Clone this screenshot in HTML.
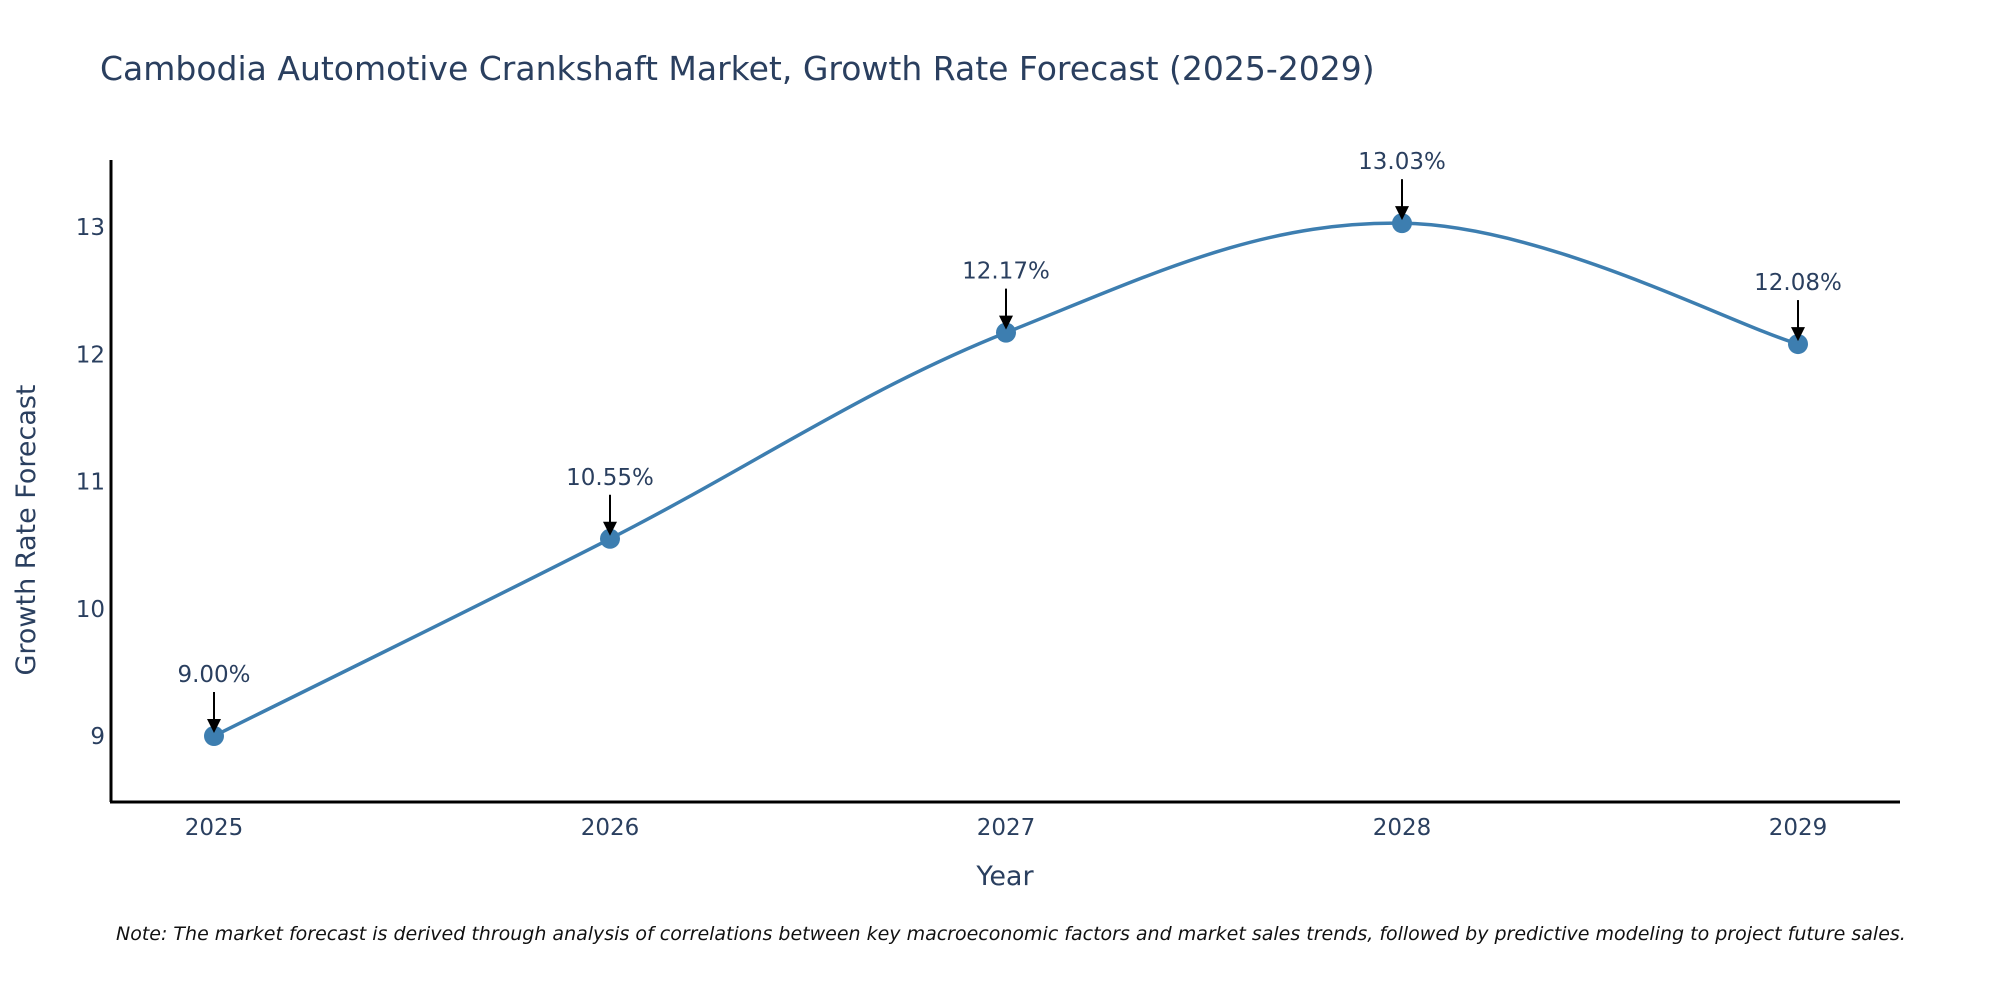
<!DOCTYPE html>
<html><head><meta charset="utf-8"><style>
body{margin:0;background:#fff;}
svg text{font-family:"DejaVu Sans","Liberation Sans",sans-serif;}
</style></head><body>
<svg id="chart" width="2000" height="1000" xmlns="http://www.w3.org/2000/svg">
<text x="100" y="80" font-size="33" fill="#2a3f5f">Cambodia Automotive Crankshaft Market, Growth Rate Forecast (2025-2029)</text>
<g id="yticks"></g>
<g id="xticks"></g>
<line x1="111" y1="160" x2="111" y2="802" stroke="#000" stroke-width="3"/>
<line x1="110" y1="802" x2="1900" y2="802" stroke="#000" stroke-width="3"/>
<text transform="translate(35,530) rotate(-90)" text-anchor="middle" font-size="27" fill="#2a3f5f">Growth Rate Forecast</text>
<text x="1005" y="885" text-anchor="middle" font-size="27" fill="#2a3f5f">Year</text>
<g id="series"></g>
<text x="116" y="940" font-size="19" font-style="italic" fill="#111">Note: The market forecast is derived through analysis of correlations between key macroeconomic factors and market sales trends, followed by predictive modeling to project future sales.</text>
</svg>
<script>
const years = ["2025","2026","2027","2028","2029"];
const values = [9.00, 10.55, 12.17, 13.03, 12.08];
const yTickValues = [9, 10, 11, 12, 13];
const labels = ["9.00%","10.55%","12.17%","13.03%","12.08%"];

const NS = "http://www.w3.org/2000/svg";
function xScale(i){ return 214 + i * 396; }
function yScale(v){ return 736 - (v - 9) * 127.25; }
function mk(tag, attrs, parent){ const e=document.createElementNS(NS,tag); for(const k in attrs) e.setAttribute(k,attrs[k]); parent.appendChild(e); return e; }

const yt = document.getElementById('yticks');
yTickValues.forEach(v=>{
  const t = mk('text',{x:105,y:yScale(v)+8,'text-anchor':'end','font-size':23,fill:'#2a3f5f'},yt);
  
  
  t.textContent = v;
});
const xt = document.getElementById('xticks');
years.forEach((y,i)=>{
  const t = mk('text',{x:xScale(i),y:835,'text-anchor':'middle','font-size':23,fill:'#2a3f5f'},xt);
  
  
  t.textContent = y;
});

const g = document.getElementById('series');
const pts = values.map((v,i)=>[xScale(i), yScale(v)]);
let d = `M${pts[0][0]},${pts[0][1]}`;
const s = 0.18;
for(let i=0;i<pts.length-1;i++){
  const p0 = pts[Math.max(i-1,0)], p1=pts[i], p2=pts[i+1], p3=pts[Math.min(i+2,pts.length-1)];
  const c1=[p1[0]+(p2[0]-p0[0])*s, p1[1]+(p2[1]-p0[1])*s];
  const c2=[p2[0]-(p3[0]-p1[0])*s, p2[1]-(p3[1]-p1[1])*s];
  d += ` C${c1[0]},${c1[1]} ${c2[0]},${c2[1]} ${p2[0]},${p2[1]}`;
}
const line = mk('path',{d:d,fill:'none',stroke:'#3d7eb0','stroke-width':3.5},g);


pts.forEach((p,i)=>{
  const c = mk('circle',{cx:p[0],cy:p[1],r:10,fill:'#3d7eb0'},g);
  
  
  const a = mk('line',{x1:p[0],y1:p[1]-44,x2:p[0],y2:p[1]-14,stroke:'#000','stroke-width':2},g);
  
  
  const h = mk('polygon',{points:`${p[0]-7},${p[1]-17} ${p[0]+7},${p[1]-17} ${p[0]},${p[1]-3}`,fill:'#000'},g);
  
  
  const t = mk('text',{x:p[0],y:p[1]-54,'text-anchor':'middle','font-size':23,fill:'#2a3f5f'},g);
  
  
  t.textContent = labels[i];
});
</script>
</body></html>
